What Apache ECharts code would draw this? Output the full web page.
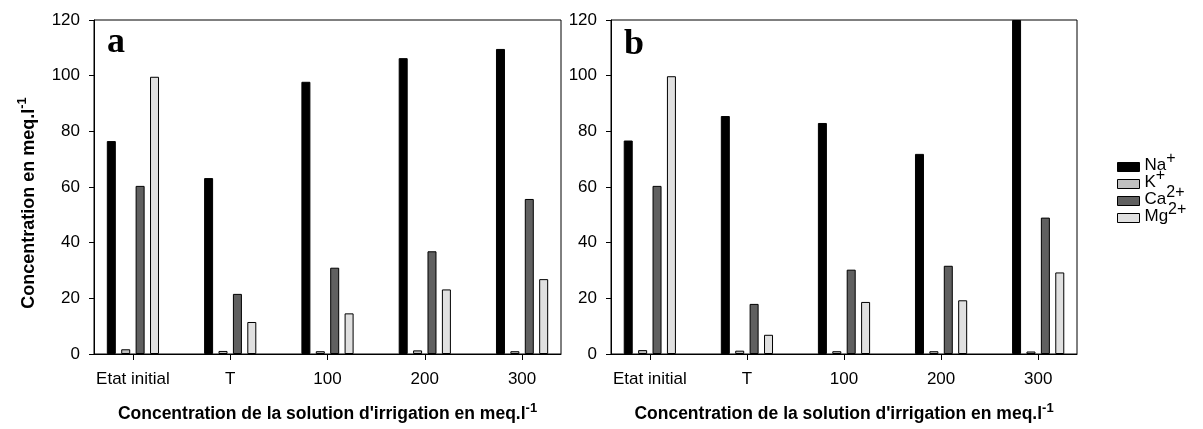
<!DOCTYPE html>
<html>
<head>
<meta charset="utf-8">
<script src="https://cdn.jsdelivr.net/npm/echarts@6/dist/echarts.min.js"></script>
<style>
  html, body { margin: 0; padding: 0; background: #fff; }
  #chart { width: 1203px; height: 429px; }
</style>
</head>
<body>
<div id="chart"></div>
<script>
// categories / ions
var categories = ['Etat initial', 'T', '100', '200', '300'];
var ions = ['Na+', 'K+', 'Ca2+', 'Mg2+'];
// panel a
var naA = [76.5, 63.2, 97.8, 106.3, 109.6];
var kA = [1.7, 1.1, 1.0, 1.3, 1.0];
var caA = [60.4, 21.6, 31.0, 36.9, 55.7];
var mgA = [99.6, 11.5, 14.6, 23.2, 26.9];
// panel b
var naB = [76.7, 85.5, 83.0, 71.9, 120];
var kB = [1.4, 1.2, 1.0, 1.0, 0.9];
var caB = [60.4, 18.0, 30.3, 31.7, 49.0];
var mgB = [99.8, 6.9, 18.7, 19.3, 29.3];
var yTicks = [0, 20, 40, 60, 80, 100, 120];

var ionLabel = { 'Na+': '{b|Na}{s|+}', 'K+': '{b|K}{s|+}', 'Ca2+': '{b|Ca}{s|2+}', 'Mg2+': '{b|Mg}{s|2+}' };
var colors = ['#000000', '#c0c0c0', '#606060', '#e0e0e0'];
var font = '"Liberation Sans", Arial, sans-serif';

function pairs (arr) {
  return arr.map(function (v, i) { return [i, v]; });
}

function xAxis (idx) {
  return {
    type: 'value',
    gridIndex: idx,
    min: -0.4,
    max: 4.4,
    splitLine: { show: false },
    axisLine: { show: true, onZero: false, lineStyle: { color: '#000', width: 1 } },
    axisTick: { show: true, customValues: [0, 1, 2, 3, 4], length: 6, lineStyle: { color: '#000' } },
    axisLabel: {
      customValues: [0, 1, 2, 3, 4],
      formatter: function (v) { return categories[Math.round(v)]; },
      color: '#000', fontSize: 17, fontFamily: font, margin: 17
    },
    name: '{b|Concentration de la solution d\'irrigation en meq.l}{s|-1}',
    nameLocation: 'middle',
    nameGap: 51,
    nameTextStyle: {
      rich: {
        b: { fontSize: 17.5, fontWeight: 'bold', fontFamily: font, color: '#000', verticalAlign: 'bottom', lineHeight: 18 },
        s: { fontSize: 13, fontWeight: 'bold', fontFamily: font, color: '#000', verticalAlign: 'bottom', lineHeight: 14, padding: [0, 0, 8, 0] }
      }
    }
  };
}

function yAxis (idx, withName) {
  var ax = {
    type: 'value',
    gridIndex: idx,
    min: yTicks[0],
    max: yTicks[yTicks.length - 1],
    interval: yTicks[1] - yTicks[0],
    splitLine: { show: false },
    axisLine: { show: true, onZero: false, lineStyle: { color: '#000', width: 1 } },
    axisTick: { show: true, length: 5, lineStyle: { color: '#000' } },
    axisLabel: { color: '#000', fontSize: 17, fontFamily: font, margin: 14 }
  };
  if (withName) {
    ax.name = '{b|Concentration en meq.l}{s|-1}';
    ax.nameLocation = 'middle';
    ax.nameGap = 56;
    ax.nameTextStyle = {
      padding: [0, 32, 0, 0],
      rich: {
        b: { fontSize: 18, fontWeight: 'bold', fontFamily: font, color: '#000', verticalAlign: 'bottom', lineHeight: 19 },
        s: { fontSize: 13, fontWeight: 'bold', fontFamily: font, color: '#000', verticalAlign: 'bottom', lineHeight: 14, padding: [0, 0, 9, 0] }
      }
    };
  }
  return ax;
}

function barSeries (name, data, idx, color) {
  return {
    name: name,
    type: 'bar',
    xAxisIndex: idx,
    yAxisIndex: idx,
    data: pairs(data),
    barWidth: 9,
    barGap: '60%',
    clip: true,
    itemStyle: { color: color, borderColor: '#000', borderWidth: 1 },
    emphasis: { disabled: true }
  };
}

var myChart = echarts.init(document.getElementById('chart'));

var option = {
  animation: false,
  grid: [
    { left: 94, top: 20, width: 467, height: 334, show: true, borderColor: '#000', borderWidth: 1 },
    { left: 611, top: 20, width: 466, height: 334, show: true, borderColor: '#000', borderWidth: 1 }
  ],
  xAxis: [xAxis(0), xAxis(1)],
  yAxis: [yAxis(0, true), yAxis(1, false)],
  legend: {
    data: ions,
    orient: 'vertical',
    left: 1117,
    top: 151,
    padding: 0,
    itemWidth: 22,
    itemHeight: 9,
    itemGap: -6,
    icon: 'rect',
    selectedMode: false,
    itemStyle: { borderColor: '#000', borderWidth: 1 },
    formatter: function (name) { return ionLabel[name]; },
    textStyle: {
      rich: {
        b: { fontSize: 17, fontFamily: font, color: '#000', verticalAlign: 'bottom', lineHeight: 14 },
        s: { fontSize: 16, fontFamily: font, color: '#000', verticalAlign: 'bottom', lineHeight: 9, padding: [0, 0, 7, 0] }
      }
    }
  },
  graphic: [
    { type: 'text', left: 107, top: 25, style: { text: 'a', font: 'bold 36px "Liberation Serif", serif', fill: '#000' } },
    { type: 'text', left: 624, top: 27, style: { text: 'b', font: 'bold 36px "Liberation Serif", serif', fill: '#000' } }
  ],
  series: [
    barSeries(ions[0], naA, 0, colors[0]),
    barSeries(ions[1], kA, 0, colors[1]),
    barSeries(ions[2], caA, 0, colors[2]),
    barSeries(ions[3], mgA, 0, colors[3]),
    barSeries(ions[0], naB, 1, colors[0]),
    barSeries(ions[1], kB, 1, colors[1]),
    barSeries(ions[2], caB, 1, colors[2]),
    barSeries(ions[3], mgB, 1, colors[3])
  ]
};

myChart.setOption(option);
window.addEventListener('resize', function () {
  myChart.resize();
});
</script>
</body>
</html>
